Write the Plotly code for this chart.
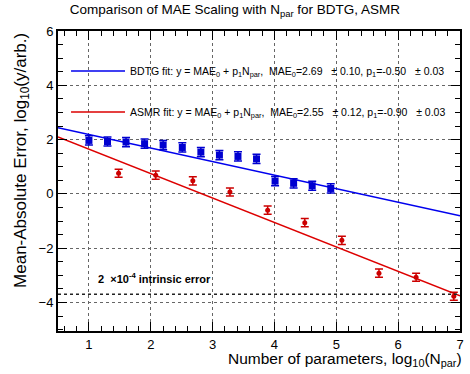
import plotly.graph_objects as go

# ---- data ----
bdtg_x = [1.00, 1.30, 1.60, 1.90, 2.20, 2.51, 2.81, 3.11, 3.41, 3.71, 4.01, 4.31, 4.61, 4.91]
bdtg_y = [1.97, 1.93, 1.91, 1.85, 1.80, 1.71, 1.54, 1.43, 1.38, 1.29, 0.47, 0.39, 0.30, 0.20]
bdtg_err = [0.17] * 14

asmr_x = [1.48, 2.08, 2.68, 3.28, 3.89, 4.49, 5.09, 5.69, 6.29, 6.90]
asmr_y = [0.76, 0.69, 0.48, 0.07, -0.60, -1.06, -1.71, -2.92, -3.07, -3.77]
asmr_err = [0.15] * 10

bdtg_fit = {"mae0": 2.69, "p1": -0.50}
asmr_fit = {"mae0": 2.55, "p1": -0.90}
fit_x = [0.5, 7.0]

intrinsic_y = -3.70

x_ticks = [1, 2, 3, 4, 5, 6, 7]
y_ticks = [-4, -2, 0, 2, 4, 6]

BLUE_M = "#0000d0"
BLUE_L = "#0000ee"
RED_M = "#cc0000"
RED_L = "#dd0000"
FONT = "Liberation Sans, Arial, sans-serif"

fig = go.Figure()

fig.add_trace(go.Scatter(
    x=fit_x, y=[bdtg_fit["mae0"] + bdtg_fit["p1"] * v for v in fit_x],
    mode="lines", line=dict(color=BLUE_L, width=1.5),
    name="BDTG fit: y = MAE<sub>0</sub> + p<sub>1</sub>N<sub>par</sub>,  MAE<sub>0</sub>=2.69   ± 0.10, p<sub>1</sub>=-0.50   ± 0.03",
    legendgroup="a", showlegend=True))
fig.add_trace(go.Scatter(
    x=fit_x, y=[asmr_fit["mae0"] + asmr_fit["p1"] * v for v in fit_x],
    mode="lines", line=dict(color=RED_L, width=1.5),
    name="ASMR fit: y = MAE<sub>0</sub> + p<sub>1</sub>N<sub>par</sub>,  MAE<sub>0</sub>=2.55   ± 0.12, p<sub>1</sub>=-0.90   ± 0.03",
    legendgroup="b", showlegend=True))

fig.add_trace(go.Scatter(
    x=bdtg_x, y=bdtg_y, mode="markers",
    marker=dict(symbol="square", size=7, color=BLUE_M),
    error_y=dict(type="data", array=bdtg_err, color=BLUE_M, thickness=1.5, width=4),
    showlegend=False))
fig.add_trace(go.Scatter(
    x=asmr_x, y=asmr_y, mode="markers",
    marker=dict(symbol="circle", size=5, color=RED_M),
    error_y=dict(type="data", array=asmr_err, color=RED_M, thickness=1.5, width=4),
    showlegend=False))

fig.add_shape(type="line", xref="paper", x0=0, x1=1, yref="y", y0=intrinsic_y, y1=intrinsic_y,
              line=dict(color="#222", width=1.5, dash="3px,3px"))

fig.add_annotation(x=1.12, y=intrinsic_y + 0.59, xref="x", yref="y", xanchor="left", yanchor="middle",
                   text="<b>2  ×10<sup>-4</sup> intrinsic error</b>", showarrow=False,
                   font=dict(family=FONT, size=11, color="black"))

fig.add_annotation(x=1.01, y=-0.094, xref="paper", yref="paper", xanchor="right", yanchor="middle",
                   text="Number of parameters, log<sub>10</sub>(N<sub>par</sub>)", showarrow=False,
                   font=dict(family=FONT, size=15.5, color="black"))
fig.add_annotation(x=-0.091, y=1.0, xref="paper", yref="paper", xanchor="center", yanchor="top",
                   textangle=-90,
                   text="Mean-Absolute Error, log<sub>10</sub>(y/arb.)", showarrow=False,
                   font=dict(family=FONT, size=17, color="black"))

axis_common = dict(
    showline=True, linecolor="black", linewidth=2, mirror="allticks",
    ticks="inside", ticklen=9, tickwidth=1, tickcolor="black",
    showgrid=True, gridcolor="#666", griddash="dot", gridwidth=1,
    zeroline=False, tickfont=dict(family=FONT, size=13, color="black"),
)

fig.update_xaxes(range=[0.5, 7.0], tickvals=x_ticks,
                 minor=dict(dtick=0.2, tick0=0, ticks="inside", ticklen=5, tickcolor="black", showgrid=False),
                 **axis_common)
fig.update_yaxes(range=[-5.05, 6.0], tickvals=y_ticks,
                 minor=dict(dtick=0.5, tick0=0, ticks="inside", ticklen=5, tickcolor="black", showgrid=False),
                 **axis_common)

fig.update_layout(
    width=470, height=374,
    margin=dict(l=58, r=6, t=31, b=43),
    paper_bgcolor="white", plot_bgcolor="white",
    title=dict(text="Comparison of MAE Scaling with N<sub>par</sub> for BDTG, ASMR",
               x=0.5, xanchor="center", y=0.975, yanchor="middle",
               font=dict(family=FONT, size=13.5, color="black")),
    legend=dict(x=0.02, y=0.915, xanchor="left", yanchor="top",
                bgcolor="rgba(0,0,0,0)", borderwidth=0,
                font=dict(family=FONT, size=10.5, color="black"),
                tracegroupgap=22, itemwidth=54),
    font=dict(family=FONT),
    showlegend=True,
)

fig.write_html("out.html", config={"displayModeBar": False},
               post_script="document.body.style.margin='0';document.body.style.padding='0';")
